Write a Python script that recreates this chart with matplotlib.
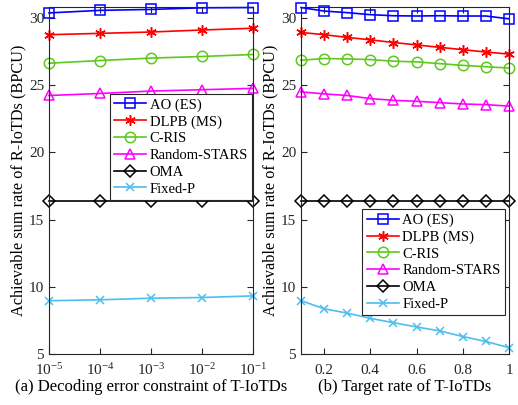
import matplotlib
matplotlib.use("Agg")
import matplotlib.pyplot as plt
import numpy as np

plt.rcParams['font.family'] = ['Liberation Serif', 'DejaVu Serif']
plt.rcParams['mathtext.fontset'] = 'custom'
plt.rcParams['mathtext.rm'] = 'Liberation Serif'
plt.rcParams['mathtext.it'] = 'Liberation Serif:italic'

# ---- data ----
eps = [1e-5, 1e-4, 1e-3, 1e-2, 1e-1]
eps_labels = ['$10^{-5}$', '$10^{-4}$', '$10^{-3}$', '$10^{-2}$', '$10^{-1}$']
a_ao = [30.36, 30.55, 30.62, 30.74, 30.76]
a_dlpb = [28.74, 28.84, 28.94, 29.09, 29.22]
a_cris = [26.62, 26.82, 27.00, 27.12, 27.27]
a_rand = [24.22, 24.37, 24.55, 24.65, 24.75]
a_oma = [16.4, 16.4, 16.4, 16.4, 16.4]
a_fixp = [8.96, 9.03, 9.15, 9.20, 9.32]

rate = [0.1, 0.2, 0.3, 0.4, 0.5, 0.6, 0.7, 0.8, 0.9, 1.0]
rate_ticks = [0.2, 0.4, 0.6, 0.8, 1.0]
rate_labels = ['0.2', '0.4', '0.6', '0.8', '1']
b_ao = [30.76, 30.50, 30.38, 30.23, 30.15, 30.13, 30.15, 30.13, 30.13, 29.92]
b_dlpb = [28.91, 28.74, 28.54, 28.36, 28.16, 27.98, 27.80, 27.63, 27.45, 27.30]
b_cris = [26.84, 26.97, 26.94, 26.89, 26.77, 26.72, 26.59, 26.46, 26.36, 26.26]
b_rand = [24.49, 24.34, 24.22, 23.99, 23.86, 23.79, 23.69, 23.59, 23.54, 23.43]
b_oma = [16.4] * 10
b_fixp = [8.97, 8.36, 8.04, 7.65, 7.33, 7.01, 6.72, 6.30, 5.93, 5.47]

labels = ['AO (ES)', 'DLPB (MS)', 'C-RIS', 'Random-STARS', 'OMA', 'Fixed-P']
colors = ['#0000ff', '#ff0000', '#5ec81e', '#ff00ff', '#000000', '#4dbeee']
markers = ['s', (6, 2, 0), 'o', '^', 'D', 'x']
msizes = [6.5, 7.5, 7.5, 7.5, 6, 5.5]

fig = plt.figure(figsize=(5.18, 4.05), dpi=100)
ax1 = fig.add_axes([49/518, 1-354/405, (253-49)/518, (354-7)/405])
ax2 = fig.add_axes([301/518, 1-354/405, (509-301)/518, (354-7)/405])

def draw(ax, x, series, xpad):
    for s, lab, c, m, ms in zip(series, labels, colors, markers, msizes):
        ax.plot(x, s, color=c, linewidth=1.2, label=lab, clip_on=False,
                marker=m, markersize=ms, markerfacecolor='none',
                markeredgecolor=c, markeredgewidth=1.1)
    ax.set_ylim(5, 30.8)
    ax.set_yticks([5, 10, 15, 20, 25, 30])
    ax.tick_params(direction='in', which='both', top=True, right=True,
                   labelsize=11, colors='#262626', length=4)
    ax.tick_params(axis='x', pad=xpad)
    ax.tick_params(which='minor', length=2)
    for sp in ax.spines.values():
        sp.set_color('#262626')
        sp.set_linewidth(0.8)
    ax.set_ylabel('Achievable sum rate of R-IoTDs (BPCU)', fontsize=11.7, labelpad=2)

def legend(ax, loc, anchor):
    lg = ax.legend(loc=loc, bbox_to_anchor=anchor, fontsize=10.5,
                   frameon=True, fancybox=False, edgecolor='#262626', framealpha=1,
                   borderpad=0.3, labelspacing=0.24, handlelength=2.2,
                   handletextpad=0.25, borderaxespad=0, numpoints=1)
    lg.get_frame().set_linewidth(0.8)
    return lg

draw(ax1, eps, [a_ao, a_dlpb, a_cris, a_rand, a_oma, a_fixp], 6)
ax1.set_xscale('log')
ax1.set_xlim(1e-5, 1e-1)
ax1.set_xticks(eps)
ax1.set_xticklabels(eps_labels)
ax1.set_xlabel('(a) Decoding error constraint of T-IoTDs', fontsize=12)
ax1.xaxis.set_label_coords(0.5, -0.072)
legend(ax1, 'lower right', (0.997, 0.444))

draw(ax2, rate, [b_ao, b_dlpb, b_cris, b_rand, b_oma, b_fixp], 7)
ax2.set_xlim(0.1, 1.0)
ax2.set_xticks(rate_ticks)
ax2.set_xticklabels(rate_labels)
ax2.set_xlabel('(b) Target rate of T-IoTDs', fontsize=12)
ax2.xaxis.set_label_coords(0.5, -0.072)
legend(ax2, 'upper right', (0.981, 0.418))

fig.savefig('out.png', dpi=100)
